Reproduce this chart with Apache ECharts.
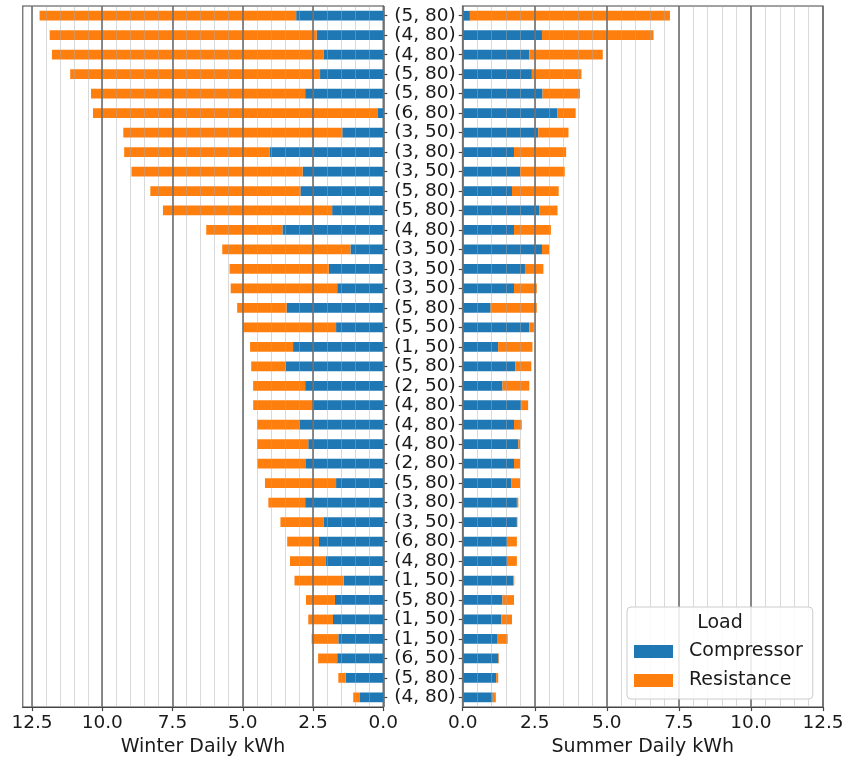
<!DOCTYPE html>
<html>
<head>
<meta charset="utf-8">
<script src="https://cdn.jsdelivr.net/npm/echarts@6/dist/echarts.min.js"></script>
<style>
html,body{margin:0;padding:0;background:#fff;}
#chart{width:847px;height:762px;}
</style>
</head>
<body>
<div id="chart"></div>
<script>
const labels = ["(5, 80)","(4, 80)","(4, 80)","(5, 80)","(5, 80)","(6, 80)","(3, 50)","(3, 80)","(3, 50)","(5, 80)","(5, 80)","(4, 80)","(3, 50)","(3, 50)","(3, 50)","(5, 80)","(5, 50)","(1, 50)","(5, 80)","(2, 50)","(4, 80)","(4, 80)","(4, 80)","(2, 80)","(5, 80)","(3, 80)","(3, 50)","(6, 80)","(4, 80)","(1, 50)","(5, 80)","(1, 50)","(1, 50)","(6, 50)","(5, 80)","(4, 80)"];

const winterCompressor = [3.10,2.37,2.13,2.25,2.78,0.21,1.46,4.05,2.87,2.95,1.82,3.59,1.17,1.94,1.64,3.44,1.68,3.21,3.48,2.78,2.49,2.99,2.67,2.75,1.68,2.78,2.13,2.29,2.06,1.41,1.72,1.79,1.60,1.64,1.34,0.83];
const winterResistance = [9.13,9.50,9.66,8.89,7.62,10.12,7.79,5.17,6.09,5.34,6.02,2.71,4.56,3.53,3.79,1.76,3.30,1.53,1.22,1.85,2.14,1.50,1.82,1.73,2.53,1.31,1.53,1.13,1.26,1.75,1.03,0.88,0.95,0.68,0.26,0.24];

const summerCompressor = [0.25,2.75,2.31,2.40,2.77,3.29,2.62,1.78,1.99,1.71,2.65,1.78,2.75,2.16,1.78,0.97,2.31,1.23,1.83,1.38,2.04,1.78,1.93,1.78,1.68,1.88,1.88,1.56,1.56,1.76,1.38,1.34,1.19,1.24,1.16,1.04];
const summerResistance = [6.94,3.87,2.55,1.72,1.30,0.63,1.05,1.81,1.55,1.62,0.64,1.28,0.25,0.64,0.79,1.60,0.16,1.19,0.55,0.93,0.23,0.27,0.06,0.21,0.31,0.05,0.02,0.32,0.32,0.03,0.40,0.37,0.37,0.02,0.07,0.11];

const majorTicks = [0, 2.5, 5, 7.5, 10, 12.5];
const winterMax = 12.83;
const summerMax = 12.5;

const TXT = '#1a1a1a';
const SPINE = '#444';
const FONT = 'DejaVu Sans';
const idx = labels.map((_, i) => String(i));

function majorAxis(grid, max, inverse, name) {
  return {
    type: 'value', gridIndex: grid, min: 0, max: max, interval: 2.5, inverse: inverse,
    position: 'bottom', z: 10,
    axisLine: {show: true, onZero: false, lineStyle: {color: SPINE, width: 1.2}},
    axisTick: {show: true, length: 4, customValues: majorTicks, lineStyle: {color: SPINE, width: 1.2}},
    axisLabel: {customValues: majorTicks, formatter: v => Number(v).toFixed(1), fontSize: 18.5, color: TXT, margin: 7, fontFamily: FONT},
    splitLine: {show: true, lineStyle: {color: 'rgba(110,110,110,0.8)', width: 2}},
    name: name, nameLocation: 'middle', nameGap: 29,
    nameTextStyle: {fontSize: 19, color: TXT, fontFamily: FONT}
  };
}
function minorAxis(grid, max, inverse) {
  return {
    type: 'value', gridIndex: grid, min: 0, max: max, interval: 0.5, inverse: inverse,
    position: 'top', z: 9,
    axisLine: {show: false}, axisTick: {show: false}, axisLabel: {show: false},
    splitLine: {show: true, lineStyle: {color: 'rgba(170,170,170,0.45)', width: 1}}
  };
}

const chart = echarts.init(document.getElementById('chart'), null, {renderer: 'canvas'});
chart.setOption({
  animation: false,
  backgroundColor: '#fff',
  textStyle: {fontFamily: FONT},
  grid: [
    {left: 22.7, top: 6, width: 360.6, height: 705, show: true, borderColor: SPINE, borderWidth: 1.2, containLabel: false},
    {left: 462.7, top: 6, width: 360.3, height: 705, show: true, borderColor: SPINE, borderWidth: 1.2, containLabel: false}
  ],
  xAxis: [
    majorAxis(0, winterMax, true, 'Winter Daily kWh'),
    minorAxis(0, winterMax, true),
    majorAxis(1, summerMax, false, 'Summer Daily kWh'),
    minorAxis(1, summerMax, false)
  ],
  yAxis: [
    {type: 'category', gridIndex: 0, data: idx, inverse: true, position: 'right',
     axisLine: {show: true, lineStyle: {color: SPINE, width: 1.2}},
     axisTick: {show: true, interval: 0, alignWithLabel: true, length: 4, lineStyle: {color: SPINE, width: 1.2}},
     axisLabel: {show: false}, splitLine: {show: false}},
    {type: 'category', gridIndex: 1, data: idx, inverse: true, position: 'left',
     axisLine: {show: true, lineStyle: {color: SPINE, width: 1.2}},
     axisTick: {show: true, interval: 0, alignWithLabel: true, length: 4, lineStyle: {color: SPINE, width: 1.2}},
     axisLabel: {show: true, interval: 0, hideOverlap: false, formatter: (v, i) => labels[i], fontSize: 18.5, color: TXT, margin: 7, fontFamily: FONT},
     splitLine: {show: false}}
  ],
  legend: {
    orient: 'vertical', left: 627, top: 607,
    data: ['Compressor', 'Resistance'],
    icon: 'rect', itemWidth: 39, itemHeight: 13, itemGap: 10,
    padding: [35, 10, 9, 7],
    textStyle: {fontSize: 19, color: TXT, fontFamily: FONT, padding: [0, 0, 0, 11], lineHeight: 19},
    backgroundColor: 'rgba(255,255,255,0.85)', borderColor: '#cccccc', borderWidth: 1, borderRadius: 4,
    z: 20
  },
  graphic: [
    {type: 'text', x: 720, y: 623, z: 30,
     style: {text: 'Load', fontSize: 19, fontFamily: FONT, fill: TXT, align: 'center', verticalAlign: 'middle'}}
  ],
  series: [
    {type: 'bar', name: 'Compressor', xAxisIndex: 0, yAxisIndex: 0, stack: 'winter', data: winterCompressor, barWidth: '50%', itemStyle: {color: '#1f77b4'}},
    {type: 'bar', name: 'Resistance', xAxisIndex: 0, yAxisIndex: 0, stack: 'winter', data: winterResistance, barWidth: '50%', itemStyle: {color: '#ff7f0e'}},
    {type: 'bar', name: 'Compressor', xAxisIndex: 2, yAxisIndex: 1, stack: 'summer', data: summerCompressor, barWidth: '50%', itemStyle: {color: '#1f77b4'}},
    {type: 'bar', name: 'Resistance', xAxisIndex: 2, yAxisIndex: 1, stack: 'summer', data: summerResistance, barWidth: '50%', itemStyle: {color: '#ff7f0e'}}
  ]
});
</script>
</body>
</html>
